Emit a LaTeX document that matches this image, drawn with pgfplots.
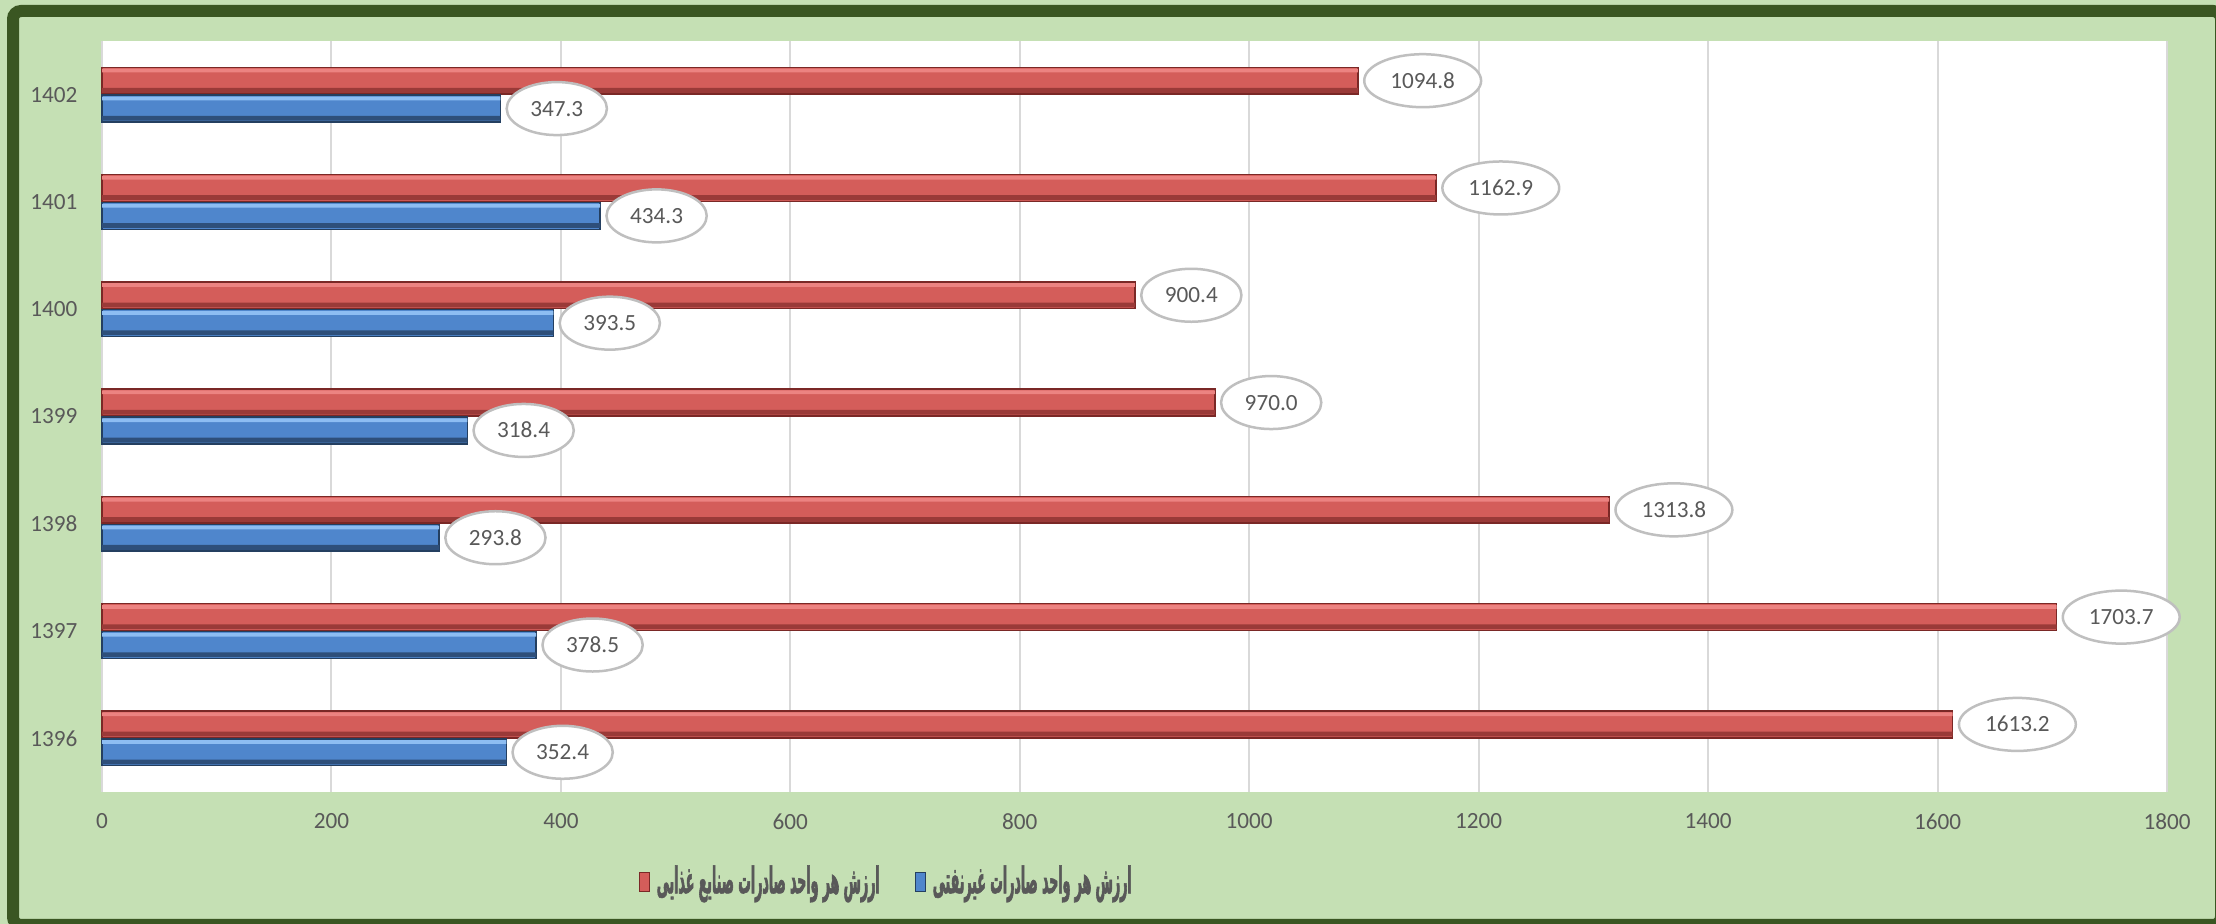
\documentclass[border=0pt]{standalone}
\usepackage{fontspec}
\setmainfont{Carlito}
\newfontfamily\legfont[Script=Arabic, FakeStretch=0.34, FakeBold=1.5]{DejaVu Sans Bold}
\TeXXeTstate=1
\usepackage{pgfplots}
\pgfplotsset{compat=1.18}
\usetikzlibrary{shapes.geometric}
\definecolor{bggreen}{HTML}{C5E0B4}
\definecolor{framegreen}{HTML}{3A5622}
\definecolor{labelgray}{HTML}{595959}
\definecolor{gridgray}{HTML}{D9D9D9}
\definecolor{ellgray}{HTML}{BFBFBF}
\definecolor{redtop}{HTML}{EC8381}
\definecolor{redmid}{HTML}{D45D5A}
\definecolor{redbot}{HTML}{9A3A38}
\definecolor{reddraw}{HTML}{7A2826}
\definecolor{bluetop}{HTML}{8DBDF2}
\definecolor{bluemid}{HTML}{4F86CC}
\definecolor{bluebot}{HTML}{2E4F7A}
\definecolor{bluedraw}{HTML}{243F60}
\pgfplotstableread{
y red blue
0 1613.2 352.4
1 1703.7 378.5
2 1313.8 293.8
3 970.0 318.4
4 900.4 393.5
5 1162.9 434.3
6 1094.8 347.3
}\datatable
\begin{document}
\begin{tikzpicture}
\useasboundingbox (0,0) rectangle (221.6mm,92.4mm);
\clip (0,0) rectangle (221.6mm,92.4mm);
\fill[bggreen] (0,0) rectangle (221.6mm,92.4mm);
\draw[framegreen, line width=1.2mm, rounded corners=0.8mm] (1.3mm,-0.1mm) rectangle (222.1mm,91.3mm);
\begin{axis}[
  at={(10.2mm,13.2mm)}, anchor=south west,
  scale only axis, width=206.5mm, height=75.1mm,
  xmin=0, xmax=1800, ymin=-0.5, ymax=6.5,
  xtick={0,200,...,1800},
  ytick={0,1,2,3,4,5,6},
  yticklabels={1396,1397,1398,1399,1400,1401,1402},
  xbar, bar width=0.25,
  axis line style={draw=none},
  major tick length=0pt,
  xmajorgrids, grid style={draw=gridgray, line width=0.2mm},
  axis background/.style={fill=white},
  tick label style={font=\fontsize{6.6}{8}\selectfont, text=labelgray},
  xticklabel style={inner sep=0pt, yshift=-2.1mm},
  yticklabel style={inner sep=0pt, xshift=-2.4mm},
  /pgf/number format/1000 sep={},
  /pgf/number format/assume math mode=true,
  clip=false,
  point meta=x,
  every node near coord/.append style={shape=ellipse, draw=ellgray, fill=white, line width=0.25mm,
     inner xsep=0.9mm, inner ysep=0.5mm, minimum height=5.3mm, text height=1.5mm, text depth=0mm,
     font=\fontsize{6.6}{8}\selectfont, text=labelgray, xshift=0.5mm},
  legend style={at={(0.2596,-0.1198)}, anchor=west, draw=none, fill=none, inner sep=0pt,
     font=\legfont\fontsize{10.5}{12}\selectfont, text=labelgray,
     /tikz/every even column/.append style={column sep=2.8mm}},
  legend columns=2,
]
% red main bars
\addplot[draw=reddraw, line width=0.15mm, fill=redmid, bar shift=0.13,
  nodes near coords={\pgfmathprintnumber[fixed,fixed zerofill,precision=1]{\pgfplotspointmeta}},
  nodes near coords align={horizontal},
  legend image code/.code={\fill[redmid, draw=reddraw, line width=0.1mm] (0mm,-0.95mm) rectangle (1mm,0.95mm);}]
  table[x=red, y=y] {\datatable};
\addlegendentry{\beginR ارزش هر واحد صادرات صنایع غذایی\endR}
% blue main bars
\addplot[draw=bluedraw, line width=0.15mm, fill=bluemid, bar shift=-0.13,
  nodes near coords={\pgfmathprintnumber[fixed,fixed zerofill,precision=1]{\pgfplotspointmeta}},
  nodes near coords align={horizontal},
  legend image code/.code={\fill[bluemid, draw=bluedraw, line width=0.1mm] (0mm,-0.95mm) rectangle (1mm,0.95mm);}]
  table[x=blue, y=y] {\datatable};
\addlegendentry{\beginR ارزش هر واحد صادرات غیرنفتی\endR}
% bevel strips
\addplot[forget plot, draw=none, fill=redtop, bar width=0.035, bar shift=0.225] table[x=red, y=y] {\datatable};
\addplot[forget plot, draw=none, fill=redbot, bar width=0.045, bar shift=0.04] table[x=red, y=y] {\datatable};
\addplot[forget plot, draw=none, fill=bluetop, bar width=0.035, bar shift=-0.035] table[x=blue, y=y] {\datatable};
\addplot[forget plot, draw=none, fill=bluebot, bar width=0.045, bar shift=-0.22] table[x=blue, y=y] {\datatable};
\end{axis}
\end{tikzpicture}
\end{document}
